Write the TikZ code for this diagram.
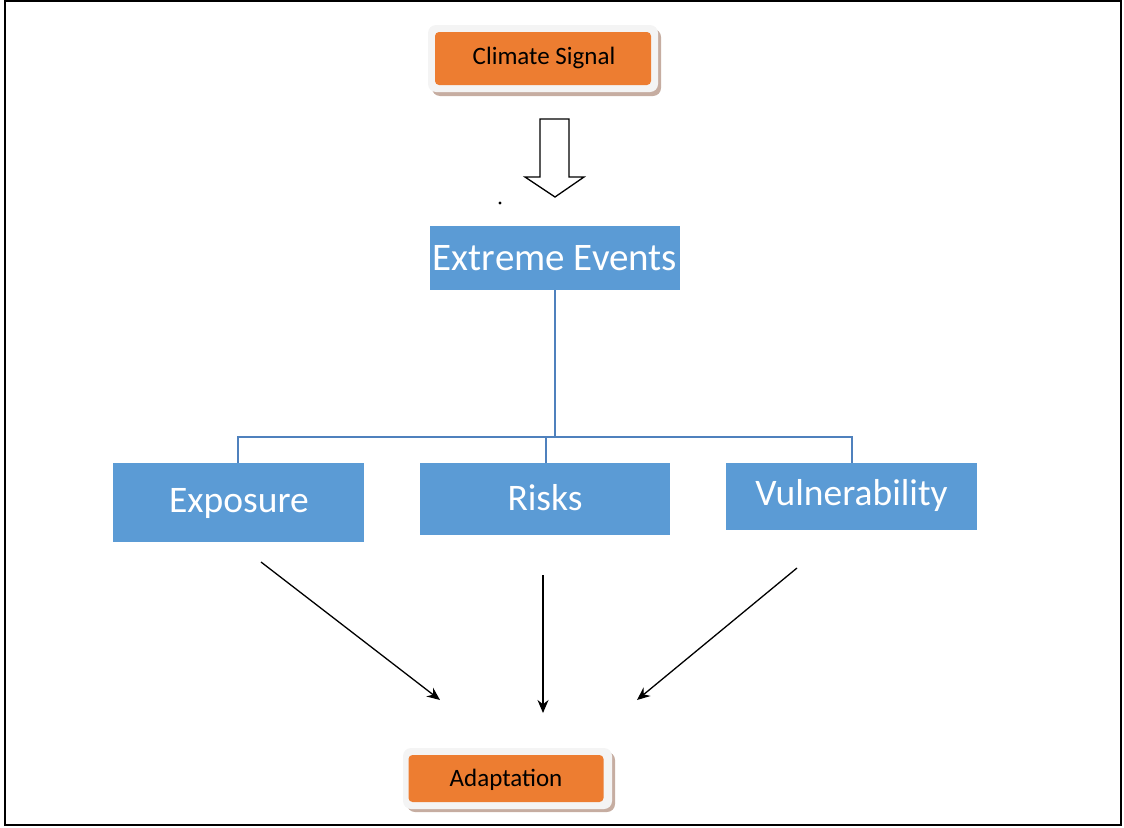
\documentclass[tikz,border=0pt]{standalone}
\usepackage{fontspec}
\setmainfont{Carlito}
\usetikzlibrary{arrows.meta}
\definecolor{boxblue}{HTML}{5B9BD5}
\definecolor{lineblue}{HTML}{4F81BD}
\definecolor{orng}{HTML}{ED7D31}
\definecolor{shadowc}{HTML}{B8998A}
\definecolor{outerc}{HTML}{F4F4F4}
\tikzset{
  bluebox/.style={fill=boxblue, draw=none, inner sep=0pt, anchor=center},
  bluetext/.style={text=white, font=\fontsize{37.5}{44}\selectfont, inner sep=0pt},
  orangebox/.style={fill=orng, rounded corners=4pt, draw=none, inner sep=0pt},
  orangetext/.style={font=\fontsize{25}{30}\selectfont, text=black, inner sep=0pt},
  outerbox/.style={fill=outerc, rounded corners=8pt, draw=none},
  shadowbox/.style={fill=shadowc, rounded corners=8pt, draw=none, opacity=0.8},
  tree/.style={draw=lineblue, line width=2.6pt},
  arr/.style={draw=black, line width=1.3pt, -{Stealth[length=13pt,width=11pt]}}
}
\begin{document}
\begin{tikzpicture}[x=1pt,y=-1pt]
\useasboundingbox (0,0) rectangle (1124,827);
\draw[line width=2pt, black] (5,1) rectangle (1121,825);
% Climate Signal
\fill[shadowbox] (432,29) rectangle (661,96);
\fill[outerbox] (428,25) rectangle (658,92);
\node[orangebox, minimum width=216pt, minimum height=53pt] (cs) at (543,58.5) {};
\node[orangetext] at (544,58) {Climate Signal};
% hollow arrow
\draw[line width=1.3pt, fill=white, line join=miter]
  (540,119) -- (569,119) -- (569,177) -- (584,177) -- (555,197) -- (525,177) -- (540,177) -- cycle;
\fill (500,203) circle (1.6pt);
% Extreme events
\node[bluebox, minimum width=250pt, minimum height=64pt] (ee) at (555,258) {};
\node[bluetext, font=\fontsize{39}{46}\selectfont] at (555,258) {Extreme Events};
% level boxes
\node[bluebox, minimum width=251pt, minimum height=79pt] (ex) at (238.5,502.5) {};
\node[bluetext] at (239,503) {Exposure};
\node[bluebox, minimum width=250pt, minimum height=72pt] (ri) at (545,499) {};
\node[bluetext] at (545,498) {Risks};
\node[bluebox, minimum width=251pt, minimum height=67pt] (vu) at (851.5,496.5) {};
\node[bluetext] at (851.5,495) {Vulnerability};
% tree connectors
\coordinate (j) at (555,437);
\draw[tree] (ee.south) -- (j);
\draw[tree] (ex.north -| 238,0) -- (238,437) -- (852,437) -- (vu.north -| 852,0);
\draw[tree] (546,437) -- (ri.north -| 546,0);
% Adaptation
\fill[shadowbox] (407,752) rectangle (615,812);
\fill[outerbox] (403,748) rectangle (612,809);
\node[orangebox, minimum width=195pt, minimum height=47pt] (ad) at (506,778.5) {};
\node[orangetext] at (506,780) {Adaptation};
% arrows
\coordinate (a1s) at (261,562);
\coordinate (a1e) at (440,700);
\coordinate (a2s) at (543,575);
\coordinate (a2e) at (543,713);
\coordinate (a3s) at (797,568);
\coordinate (a3e) at (637,700);
\draw[arr] (a1s) -- (a1e);
\draw[arr] (a2s) -- (a2e);
\draw[arr] (a3s) -- (a3e);
\end{tikzpicture}
\end{document}
